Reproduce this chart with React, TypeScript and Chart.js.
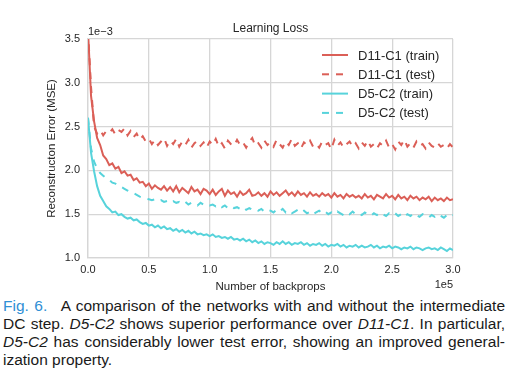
import React, { useEffect, useRef } from "react";
import { Chart, registerables } from "chart.js";

Chart.register(...registerables);

// x positions, in units of 1e5 backprops
const backprops = [
  0, 0.025, 0.05, 0.075, 0.1, 0.125, 0.15, 0.175, 0.2, 0.225,
  0.25, 0.275, 0.3, 0.325, 0.35, 0.375, 0.4, 0.425, 0.45, 0.475,
  0.5, 0.525, 0.55, 0.575, 0.6, 0.625, 0.65, 0.675, 0.7, 0.725,
  0.75, 0.775, 0.8, 0.825, 0.85, 0.875, 0.9, 0.925, 0.95, 0.975,
  1, 1.025, 1.05, 1.075, 1.1, 1.125, 1.15, 1.175, 1.2, 1.225,
  1.25, 1.275, 1.3, 1.325, 1.35, 1.375, 1.4, 1.425, 1.45, 1.475,
  1.5, 1.525, 1.55, 1.575, 1.6, 1.625, 1.65, 1.675, 1.7, 1.725,
  1.75, 1.775, 1.8, 1.825, 1.85, 1.875, 1.9, 1.925, 1.95, 1.975,
  2, 2.025, 2.05, 2.075, 2.1, 2.125, 2.15, 2.175, 2.2, 2.225,
  2.25, 2.275, 2.3, 2.325, 2.35, 2.375, 2.4, 2.425, 2.45, 2.475,
  2.5, 2.525, 2.55, 2.575, 2.6, 2.625, 2.65, 2.675, 2.7, 2.725,
  2.75, 2.775, 2.8, 2.825, 2.85, 2.875, 2.9, 2.925, 2.95, 2.975,
  3,
];

// reconstruction error, in units of 1e-3
const d11c1Train = [
  3.6, 2.85, 2.56, 2.37, 2.29, 2.17, 2.13, 2.06, 2.08, 2.02,
  2.04, 1.97, 1.99, 1.94, 1.95, 1.89, 1.91, 1.86, 1.87, 1.82,
  1.85, 1.79, 1.83, 1.8, 1.78, 1.82, 1.77, 1.81, 1.76, 1.82,
  1.75, 1.8, 1.77, 1.74, 1.81, 1.76, 1.78, 1.73, 1.79, 1.77,
  1.73, 1.78, 1.72, 1.76, 1.79, 1.71, 1.77, 1.73, 1.75, 1.7,
  1.76, 1.72, 1.74, 1.78, 1.71, 1.72, 1.75, 1.71, 1.74, 1.7,
  1.76, 1.72, 1.75, 1.71, 1.74, 1.77, 1.72, 1.75, 1.71, 1.76,
  1.72, 1.74, 1.7, 1.75, 1.71, 1.73, 1.7, 1.74, 1.71, 1.73,
  1.69, 1.74, 1.7, 1.72, 1.68, 1.73, 1.7, 1.72, 1.69, 1.71,
  1.68, 1.73, 1.69, 1.71, 1.67, 1.72, 1.7, 1.68, 1.73, 1.69,
  1.71, 1.67, 1.72, 1.68, 1.7, 1.66, 1.71, 1.68, 1.7, 1.66,
  1.69, 1.67, 1.7, 1.65, 1.69, 1.66, 1.68, 1.65, 1.69, 1.66,
  1.67,
];

const d11c1Test = [
  3.6, 2.95, 2.5, 2.42, 2.46, 2.4, 2.45, 2.43, 2.47, 2.41,
  2.46, 2.44, 2.48, 2.4, 2.45, 2.38, 2.42, 2.35, 2.39, 2.33,
  2.36, 2.3, 2.35, 2.29, 2.33, 2.37, 2.28, 2.34, 2.3, 2.36,
  2.27, 2.33, 2.29, 2.35, 2.26, 2.31, 2.34, 2.28, 2.32, 2.26,
  2.33, 2.29, 2.36, 2.27, 2.31, 2.25, 2.34, 2.3, 2.28, 2.35,
  2.29, 2.32, 2.26, 2.33, 2.37, 2.28, 2.31, 2.26, 2.34, 2.29,
  2.32, 2.27, 2.35, 2.3, 2.26, 2.33, 2.29, 2.36, 2.28, 2.31,
  2.25, 2.32, 2.29, 2.34, 2.27, 2.3, 2.26, 2.33, 2.29, 2.31,
  2.24, 2.35, 2.28, 2.32, 2.26, 2.3, 2.33, 2.27, 2.31, 2.25,
  2.32, 2.28, 2.34, 2.27, 2.3, 2.25, 2.31, 2.28, 2.34, 2.26,
  2.3, 2.24, 2.33, 2.29, 2.35, 2.27, 2.31, 2.26, 2.33, 2.28,
  2.3, 2.25, 2.32, 2.28, 2.26, 2.31, 2.27, 2.29, 2.25, 2.3,
  2.26,
];

const d5c2Train = [
  2.6, 2.2, 1.99, 1.82, 1.71, 1.65, 1.59, 1.56, 1.52, 1.53,
  1.49, 1.5, 1.47, 1.45, 1.46, 1.43, 1.44, 1.41, 1.39, 1.4,
  1.37, 1.38, 1.35, 1.37, 1.34, 1.36, 1.33, 1.34, 1.31, 1.33,
  1.3, 1.32, 1.29, 1.31, 1.28, 1.3, 1.27, 1.28, 1.26, 1.27,
  1.25, 1.27, 1.24, 1.25, 1.23, 1.24, 1.22, 1.24, 1.21, 1.22,
  1.2, 1.22, 1.19, 1.21, 1.18, 1.2, 1.17, 1.19, 1.16, 1.18,
  1.17, 1.15, 1.18, 1.16, 1.19, 1.16, 1.18, 1.15, 1.17, 1.16,
  1.18, 1.15, 1.17, 1.14, 1.16, 1.15, 1.17, 1.14, 1.16, 1.13,
  1.15, 1.14, 1.16, 1.13, 1.15, 1.12, 1.14, 1.13, 1.15, 1.12,
  1.14, 1.12, 1.13, 1.15, 1.12, 1.14, 1.11, 1.13, 1.12, 1.14,
  1.11, 1.13, 1.12, 1.1, 1.12, 1.11, 1.13, 1.1, 1.12, 1.11,
  1.09, 1.11, 1.12, 1.1, 1.11, 1.09, 1.12, 1.1, 1.08, 1.11,
  1.09,
];

const d5c2Test = [
  2.6, 2.25, 2.1, 2.02, 1.97, 1.94, 1.91, 1.89, 1.86, 1.85,
  1.82, 1.81, 1.79, 1.77, 1.75, 1.74, 1.72, 1.7, 1.69, 1.68,
  1.67, 1.66, 1.67, 1.65, 1.66, 1.64, 1.65, 1.63, 1.65, 1.63,
  1.64, 1.62, 1.64, 1.61, 1.63, 1.62, 1.6, 1.63, 1.61, 1.62,
  1.6, 1.61, 1.59, 1.61, 1.58, 1.6, 1.57, 1.59, 1.57, 1.58,
  1.56, 1.58, 1.55, 1.57, 1.55, 1.56, 1.54, 1.56, 1.53, 1.55,
  1.54, 1.52, 1.55, 1.53, 1.56, 1.52, 1.54, 1.51, 1.53, 1.55,
  1.52, 1.54, 1.51, 1.53, 1.5, 1.52, 1.54, 1.51, 1.53, 1.5,
  1.52, 1.5, 1.53, 1.51, 1.49, 1.52, 1.5, 1.53, 1.5, 1.51,
  1.49, 1.52, 1.5, 1.48, 1.51, 1.49, 1.52, 1.5, 1.48, 1.51,
  1.49, 1.51, 1.48, 1.5, 1.47, 1.5, 1.48, 1.51, 1.49, 1.47,
  1.5, 1.48, 1.46, 1.49, 1.47, 1.5, 1.48, 1.46, 1.49, 1.47,
  1.49,
];

const seriesLabels = ["D11-C1 (train)", "D11-C1 (test)", "D5-C2 (train)", "D5-C2 (test)"];
const seriesValues = [d11c1Train, d11c1Test, d5c2Train, d5c2Test];
const seriesColors = ["#db5f57", "#db5f57", "#57d3db", "#57d3db"];
const seriesDashed = [false, true, false, true];

const FONT = '"Liberation Sans", Arial, Helvetica, sans-serif';
const TEXT = "#262626";
const GRID = "#d6d6d6";
const W = 520;
const H = 295;

const overlayPlugin = {
  id: "overlay",
  afterDraw(chart: any) {
    const { ctx, chartArea: a } = chart;
    ctx.save();
    ctx.fillStyle = TEXT;
    ctx.textBaseline = "middle";
    ctx.font = `12px ${FONT}`;
    ctx.textAlign = "center";
    ctx.fillText("Learning Loss", (a.left + a.right) / 2, 29);
    ctx.font = `11px ${FONT}`;
    ctx.textAlign = "left";
    ctx.fillText("1e\u22123", a.left, 32);
    ctx.textAlign = "right";
    ctx.fillText("1e5", a.right, 285);

    chart.data.datasets.forEach((ds: any, i: number) => {
      const y = a.top + 16 + i * 19.3;
      ctx.strokeStyle = ds.borderColor;
      ctx.lineWidth = 2;
      ctx.setLineDash(ds.borderDash || []);
      ctx.beginPath();
      ctx.moveTo(a.right - 131, y);
      ctx.lineTo(a.right - 105, y);
      ctx.stroke();
      ctx.setLineDash([]);
      ctx.fillStyle = TEXT;
      ctx.font = `13px ${FONT}`;
      ctx.textAlign = "left";
      ctx.fillText(ds.label, a.right - 95, y + 1);
    });
    ctx.restore();
  },
};

function LossChart() {
  const ref = useRef<HTMLCanvasElement | null>(null);
  useEffect(() => {
    if (!ref.current) return;
    Chart.defaults.font.family = FONT;
    const chart = new Chart(ref.current, {
      type: "line",
      data: {
        datasets: seriesLabels.map((label, i) => ({
          label,
          data: backprops.map((x, j) => ({ x, y: seriesValues[i][j] })),
          borderColor: seriesColors[i],
          backgroundColor: seriesColors[i],
          borderWidth: 2,
          borderDash: seriesDashed[i] ? [7, 7] : [],
          pointRadius: 0,
          tension: 0,
          fill: false,
          clip: 0,
          order: 3 - i,
        })),
      },
      options: {
        animation: false,
        responsive: false,
        events: [],
        layout: { padding: { left: 0, right: 67, top: 39, bottom: 0 } },
        plugins: {
          legend: { display: false },
          title: { display: false },
          tooltip: { enabled: false },
        },
        scales: {
          x: {
            type: "linear",
            min: 0,
            max: 3,
            afterFit(scale: any) {
              scale.height = 37;
            },
            ticks: {
              stepSize: 0.5,
              color: TEXT,
              font: { size: 11 },
              padding: 5,
              maxRotation: 0,
              callback: (v: any) => Number(v).toFixed(1),
            },
            grid: { color: GRID, lineWidth: 1.3, drawTicks: false },
            border: { color: GRID, width: 1.3 },
            title: {
              display: true,
              text: "Number of backprops",
              color: TEXT,
              font: { size: 11.5 },
              padding: { top: 0, bottom: 1.1 },
            },
          },
          y: {
            type: "linear",
            min: 1,
            max: 3.5,
            afterFit(scale: any) {
              scale.width = 88;
            },
            ticks: {
              stepSize: 0.5,
              color: TEXT,
              font: { size: 11 },
              padding: 8,
              callback: (v: any) => Number(v).toFixed(1),
            },
            grid: { color: GRID, lineWidth: 1.3, drawTicks: false },
            border: { color: GRID, width: 1.3 },
            title: {
              display: true,
              text: "Reconstructon Error (MSE)",
              color: TEXT,
              font: { size: 11.5 },
              padding: { top: 45.1, bottom: 0 },
            },
          },
        },
      },
      plugins: [overlayPlugin],
    } as any);
    return () => chart.destroy();
  }, []);
  return (
    <canvas
      ref={ref}
      width={W}
      height={H}
      style={{ position: "absolute", left: 0, top: 0, width: W, height: H }}
    />
  );
}

const justify: React.CSSProperties = { textAlign: "justify", textAlignLast: "justify" };

export default function App() {
  return (
    <div style={{ position: "absolute", left: 0, top: 0, width: W, height: 374, overflow: "hidden" }}>
      <LossChart />
      <div
        style={{
          position: "absolute",
          left: 3,
          top: 297,
          width: 502,
          fontFamily: FONT,
          fontSize: 15.5,
          lineHeight: "18px",
          color: "#1a1a1a",
        }}
      >
        <div style={justify}>
          <span style={{ color: "#2f8fd5", marginRight: 9 }}>Fig. 6.</span> A comparison of the networks with and
          without the intermediate
        </div>
        <div style={justify}>
          DC step. <i>D5-C2</i> shows superior performance over <i>D11-C1</i>. In particular,
        </div>
        <div style={justify}>
          <i>D5-C2</i> has considerably lower test error, showing an improved general-
        </div>
        <div>ization property.</div>
      </div>
    </div>
  );
}
